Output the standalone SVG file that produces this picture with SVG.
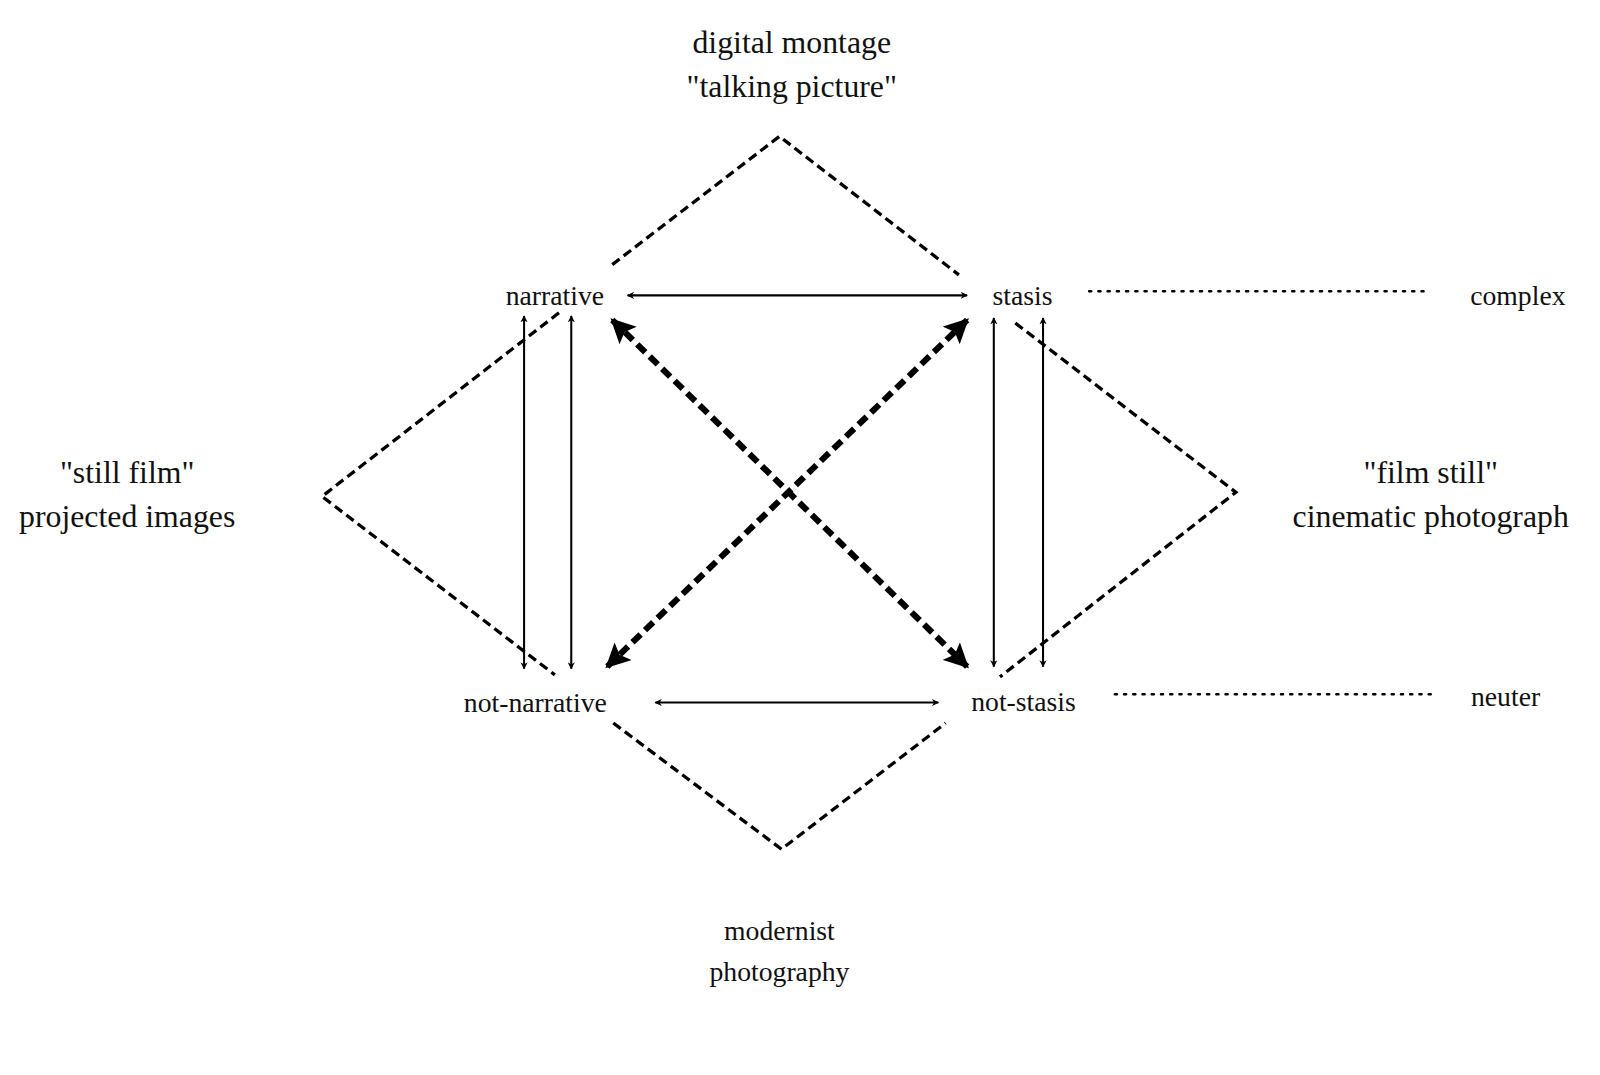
<svg xmlns="http://www.w3.org/2000/svg" width="1600" height="1075" viewBox="0 0 1600 1075">
<style>
text{font-family:"Liberation Serif","DejaVu Serif",serif;fill:#111;text-anchor:middle}
.big{font-size:31px}.lbl{font-size:27px}
.dash{stroke:#000;stroke-width:3.2;fill:none;stroke-dasharray:9 5}
.thin{stroke:#000;stroke-width:2;fill:none;marker-start:url(#a);marker-end:url(#a)}
.thick{stroke:#000;stroke-width:6;fill:none;stroke-dasharray:11 6;marker-start:url(#b);marker-end:url(#b)}
.dot{stroke:#000;stroke-width:2.5;fill:none;stroke-dasharray:2 7;stroke-linecap:round}
</style>
<defs>
<marker id="a" viewBox="0 0 10 10" refX="9" refY="5" markerWidth="7" markerHeight="7" markerUnits="userSpaceOnUse" orient="auto-start-reverse"><path d="M0,0 L10,5 L0,10 L3,5z" fill="#000"/></marker>
<marker id="b" viewBox="0 0 10 10" refX="9" refY="5" markerWidth="4" markerHeight="4" orient="auto-start-reverse"><path d="M0,0 L10,5 L0,10 L2,5z" fill="#000"/></marker>
</defs>
<rect width="1600" height="1075" fill="#fff"/>
<g transform="scale(1.0256)">
<g id="connectors">
<polyline class="dash" points="597,258 760,133 935,268"/>
<polyline class="dash" points="545,305 314,484 541,658"/>
<polyline class="dash" points="990,315 1205,480 975,660"/>
<polyline class="dash" points="598,705 762,828 922,705"/>
<line class="thin" x1="612" y1="288" x2="943" y2="288"/>
<line class="thin" x1="639" y1="685" x2="915" y2="685"/>
<line class="thin" x1="511" y1="308" x2="511" y2="652"/>
<line class="thin" x1="557" y1="308" x2="557" y2="652"/>
<line class="thin" x1="969" y1="310" x2="969" y2="650"/>
<line class="thin" x1="1017" y1="310" x2="1017" y2="650"/>
<line class="thick" x1="597" y1="312" x2="943" y2="650"/>
<line class="thick" x1="943" y1="312" x2="592" y2="650"/>
<line class="dot" x1="1062" y1="284" x2="1392" y2="284"/>
<line class="dot" x1="1087" y1="677" x2="1395" y2="677"/>
</g>
<g id="top"><text class="big" x="772" y="52">digital montage</text><text class="big" x="772" y="95">"talking picture"</text></g>
<g id="left"><text class="big" x="124" y="471">"still film"</text><text class="big" x="124" y="514">projected images</text></g>
<g id="right"><text class="big" x="1395" y="471">"film still"</text><text class="big" x="1395" y="514">cinematic photograph</text></g>
<g id="bottom"><text class="lbl" x="760" y="917">modernist</text><text class="lbl" x="760" y="957">photography</text></g>
<g id="narrative"><text class="lbl" x="541" y="297">narrative</text></g>
<g id="stasis"><text class="lbl" x="997" y="297">stasis</text></g>
<g id="complex"><text class="lbl" x="1480" y="297">complex</text></g>
<g id="not-narrative"><text class="lbl" x="522" y="694">not-narrative</text></g>
<g id="not-stasis"><text class="lbl" x="998" y="693">not-stasis</text></g>
<g id="neuter"><text class="lbl" x="1468" y="688">neuter</text></g>
</g>
</svg>
